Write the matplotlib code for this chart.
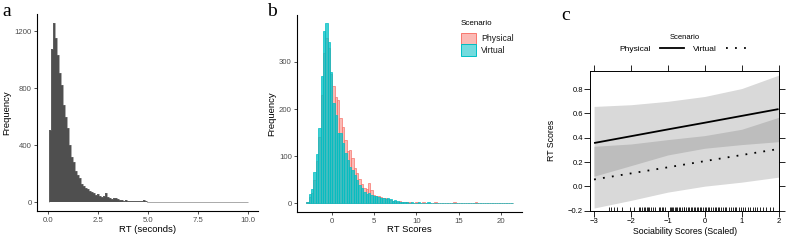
import numpy as np
import matplotlib
matplotlib.use("Agg")
import matplotlib.pyplot as plt
from matplotlib.patches import Patch
from matplotlib.lines import Line2D
import matplotlib.transforms as mtransforms

matplotlib.rcParams["font.family"] = ["Liberation Sans", "DejaVu Sans"]

# ---- panel a: RT in seconds (bins of 0.1 s) ----
rt_bin_start = 0.03
rt_bin_width = 0.1
rt_counts = [505, 1076, 1256, 1151, 1034, 905, 823, 683, 601, 519,
             402, 320, 285, 222, 192, 168, 126, 115, 98, 91,
             82, 70, 63, 51, 56, 44, 40, 44, 63, 40,
             28, 23, 30, 28, 21, 16, 16, 12, 14, 10,
             9, 12, 8, 7, 9, 6, 10, 16, 6, 5,
             4, 5, 3, 4, 3, 3, 2, 3, 2, 2,
             2, 1, 2, 1, 1, 2, 1, 1, 1, 1,
             1, 1, 0, 1, 1, 0, 1, 0, 1, 0,
             1, 0, 0, 1, 0, 0, 1, 0, 0, 0,
             1, 0, 0, 0, 1, 0, 0, 0, 0, 1]

# ---- panel b: RT scores by scenario (bins of 0.28) ----
score_bin_start = -3.0
score_bin_width = 0.28
physical_counts = [3, 12, 22, 50, 90, 140, 230, 320, 350, 330,
                   275, 250, 226, 219, 180, 162, 134, 110, 112, 95,
                   75, 63, 52, 40, 33, 30, 42, 28, 18, 16,
                   14, 13, 11, 10, 8, 6, 5, 4, 3, 4,
                   2, 3, 2, 3,
                   1, 1, 2, 1, 0, 3, 1, 1, 1, 1,
                   3, 0, 1, 1, 1, 0, 1, 0, 3, 1,
                   1, 0, 1, 0, 1, 0, 1, 3, 0, 1,
                   1, 0, 1, 0, 1, 0, 0, 1, 0, 1,
                   0, 0, 1]
virtual_counts = [2, 20, 30, 65, 105, 160, 270, 365, 382, 343,
                  279, 212, 187, 150, 148, 127, 106, 91, 77, 70,
                  60, 49, 38, 31, 24, 20, 22, 17, 15, 14,
                  12, 11, 10, 9, 10, 8, 5, 6, 4, 3,
                  3, 2, 2, 1,
                  2, 1, 1, 2, 1, 1, 1, 2, 1, 1,
                  1, 0, 1, 1, 0, 1, 1, 0, 1, 1,
                  0, 1, 0, 1, 1, 0, 1, 0, 1, 0,
                  1, 1, 0, 1, 0, 1, 0, 1, 0, 1,
                  0, 1, 1]
scenarios = ["Physical", "Virtual"]

# ---- panel c: effect of sociability ----
soc_x = [-3, -2, -1, 0, 1, 2]
phys_fit = [0.357, 0.413, 0.469, 0.524, 0.580, 0.636]
phys_lo = [0.084, 0.171, 0.259, 0.314, 0.344, 0.368]
phys_hi = [0.658, 0.672, 0.700, 0.740, 0.805, 0.915]
virt_fit = [0.057, 0.107, 0.157, 0.208, 0.258, 0.308]
virt_lo = [-0.178, -0.115, -0.047, 0.002, 0.035, 0.076]
virt_hi = [0.330, 0.349, 0.385, 0.418, 0.470, 0.568]
rug_x = [-2.60, -2.53, -2.46, -2.37, -2.24, -2.03, -1.92, -1.78, -1.75, -1.70,
         -1.66, -1.63, -1.57, -1.54, -1.51, -1.47, -1.40, -1.35, -1.25, -1.20,
         -1.16, -1.12, -1.09, -0.95, -0.92, -0.89, -0.85, -0.82, -0.78, -0.74,
         -0.70, -0.66, -0.62, -0.57, -0.55, -0.50, -0.45, -0.42, -0.38, -0.35,
         -0.30, -0.27, -0.22, -0.18, -0.14, -0.09, -0.05, 0.00, 0.04, 0.09,
         0.12, 0.18, 0.22, 0.27, 0.31, 0.36, 0.39, 0.45, 0.50, 0.54,
         0.58, 0.65, 0.70, 0.76, 0.81, 0.85, 0.92, 0.99, 1.04, 1.10,
         1.17, 1.23, 1.31, 1.37, 1.42, 1.49, 1.58, 1.67, 1.76, 1.85]

tick_col = "#4D4D4D"
pink = "#F8766D"
teal = "#00BFC4"
pink_fill = (0.973, 0.463, 0.427, 0.5)
teal_fill = (0.0, 0.749, 0.769, 0.75)

fig = plt.figure(figsize=(7.91, 2.48), dpi=100)


def gg_classic(ax):
    ax.spines["right"].set_visible(False)
    ax.spines["top"].set_visible(False)
    for s in ["left", "bottom"]:
        ax.spines[s].set_linewidth(0.8)
        ax.spines[s].set_color("black")
    ax.tick_params(length=2.5, width=0.6, pad=1.5, labelsize=5.6,
                   labelcolor=tick_col, color="#333333")


# panel a
ax1 = fig.add_axes([0.0472, 0.1492, 0.2790, 0.7943])
edges = rt_bin_start + rt_bin_width * np.arange(len(rt_counts) + 1)
ax1.stairs(rt_counts, edges, fill=True, color="#4F4F4F", linewidth=0)
ax1.stairs(rt_counts, edges, fill=False, color="#6A6A6A", linewidth=0.4)
ax1.set_xlim(-0.55, 10.52)
ax1.set_ylim(-61, 1321)
ax1.set_xticks([0, 2.5, 5, 7.5, 10])
ax1.set_xticklabels(["0.0", "2.5", "5.0", "7.5", "10.0"])
ax1.set_yticks([0, 400, 800, 1200])
gg_classic(ax1)
ax1.set_xlabel("RT (seconds)", fontsize=6.8)
ax1.set_ylabel("Frequency", fontsize=6.8)
ax1.xaxis.set_label_coords(0.5, -0.096)
ax1.xaxis.label.set_verticalalignment("center")
ax1.yaxis.set_label_coords(-0.137, 0.5)
ax1.yaxis.label.set_verticalalignment("center")

# panel b
ax2 = fig.add_axes([0.3759, 0.1452, 0.2837, 0.7944])
sedges = score_bin_start + score_bin_width * np.arange(len(virtual_counts) + 1)
ax2.bar(sedges[:-1], physical_counts, width=score_bin_width, align="edge",
        facecolor=pink_fill, edgecolor=pink, linewidth=0.5)
ax2.bar(sedges[:-1], virtual_counts, width=score_bin_width, align="edge",
        facecolor=teal_fill, edgecolor=teal, linewidth=0.5)
ax2.set_xlim(-4.06, 22.45)
ax2.set_ylim(-19, 400)
ax2.set_xticks([0, 5, 10, 15, 20])
ax2.set_yticks([0, 100, 200, 300])
gg_classic(ax2)
ax2.set_xlabel("RT Scores", fontsize=6.8)
ax2.set_ylabel("Frequency", fontsize=6.8)
ax2.xaxis.set_label_coords(0.5, -0.091)
ax2.xaxis.label.set_verticalalignment("center")
ax2.yaxis.set_label_coords(-0.113, 0.5)
ax2.yaxis.label.set_verticalalignment("center")
handles = [Patch(facecolor=pink_fill, edgecolor=pink, linewidth=0.7),
           Patch(facecolor=(0.0, 0.749, 0.769, 0.55), edgecolor=teal, linewidth=0.7)]
leg = ax2.legend(handles, scenarios, title="Scenario", loc="upper left",
                 bbox_to_anchor=(461 / 791, 1 - 20 / 248),
                 bbox_transform=fig.transFigure, frameon=False,
                 fontsize=6.2, title_fontsize=5.8, handlelength=1.75,
                 handleheight=1.75, labelspacing=0.0, handletextpad=0.6,
                 borderpad=0, borderaxespad=0)
leg._legend_box.align = "left"
leg._legend_box.sep = 4
for t in leg.get_texts():
    t.set_color("#1A1A1A")

# panel c
ax3 = fig.add_axes([0.7459, 0.1504, 0.2393, 0.5645])
lo_overlap = np.array(phys_lo)
hi_overlap = np.array(virt_hi)
ax3.fill_between(soc_x, phys_lo, phys_hi, color="#D9D9D9", linewidth=0)
ax3.fill_between(soc_x, virt_lo, virt_hi, color="#D9D9D9", linewidth=0)
ax3.fill_between(soc_x, lo_overlap, hi_overlap, where=hi_overlap > lo_overlap,
                 color="#BDBDBD", linewidth=0)
ax3.plot(soc_x, phys_fit, color="black", linewidth=1.3, solid_capstyle="butt")
ax3.plot(soc_x, virt_fit, color="black", linewidth=1.3, linestyle=(0, (1, 4)))
rug_tr = mtransforms.blended_transform_factory(ax3.transData, ax3.transAxes)
ax3.vlines(rug_x, 0, 0.026, transform=rug_tr, color="black", linewidth=0.6)
ax3.set_xlim(-3.11, 2.02)
ax3.set_ylim(-0.2, 0.952)
ax3.set_xticks([-3, -2, -1, 0, 1, 2])
ax3.set_yticks([-0.2, 0.0, 0.2, 0.4, 0.6, 0.8])
ax3.set_yticklabels(["\u22120.2", "0.0", "0.2", "0.4", "0.6", "0.8"])
for s in ax3.spines.values():
    s.set_linewidth(0.7)
ax3.tick_params(direction="out", length=4, width=0.6, pad=1.2, labelsize=5.5,
                top=True, right=True, labeltop=False, labelright=False)
ax3.set_xlabel("Sociability Scores (Scaled)", fontsize=6.3)
ax3.set_ylabel("RT Scores", fontsize=6.3)
ax3.xaxis.set_label_coords(0.5, -0.15)
ax3.xaxis.label.set_verticalalignment("center")
ax3.yaxis.set_label_coords(-0.202, 0.5)
ax3.yaxis.label.set_verticalalignment("center")
line_handles = [Line2D([], [], color="black", linewidth=1.3),
                Line2D([], [], color="black", linewidth=1.3, linestyle=(0, (1, 4)))]
ax3.legend(line_handles, scenarios, title="Scenario", ncol=2, markerfirst=False,
           loc="lower center", bbox_to_anchor=(0.5, 1.125), frameon=False,
           fontsize=6, title_fontsize=5.5, handlelength=2.9, handletextpad=1.1,
           columnspacing=1.1, borderpad=0, borderaxespad=0)

# panel letters
for x, y, s in [(2, 12, "a"), (267, 12, "b"), (561, 16, "c")]:
    fig.text(x / 791, 1 - y / 248, s, fontsize=14, family="Liberation Serif",
             va="center", ha="left")

fig.savefig("out.png", dpi=100)
